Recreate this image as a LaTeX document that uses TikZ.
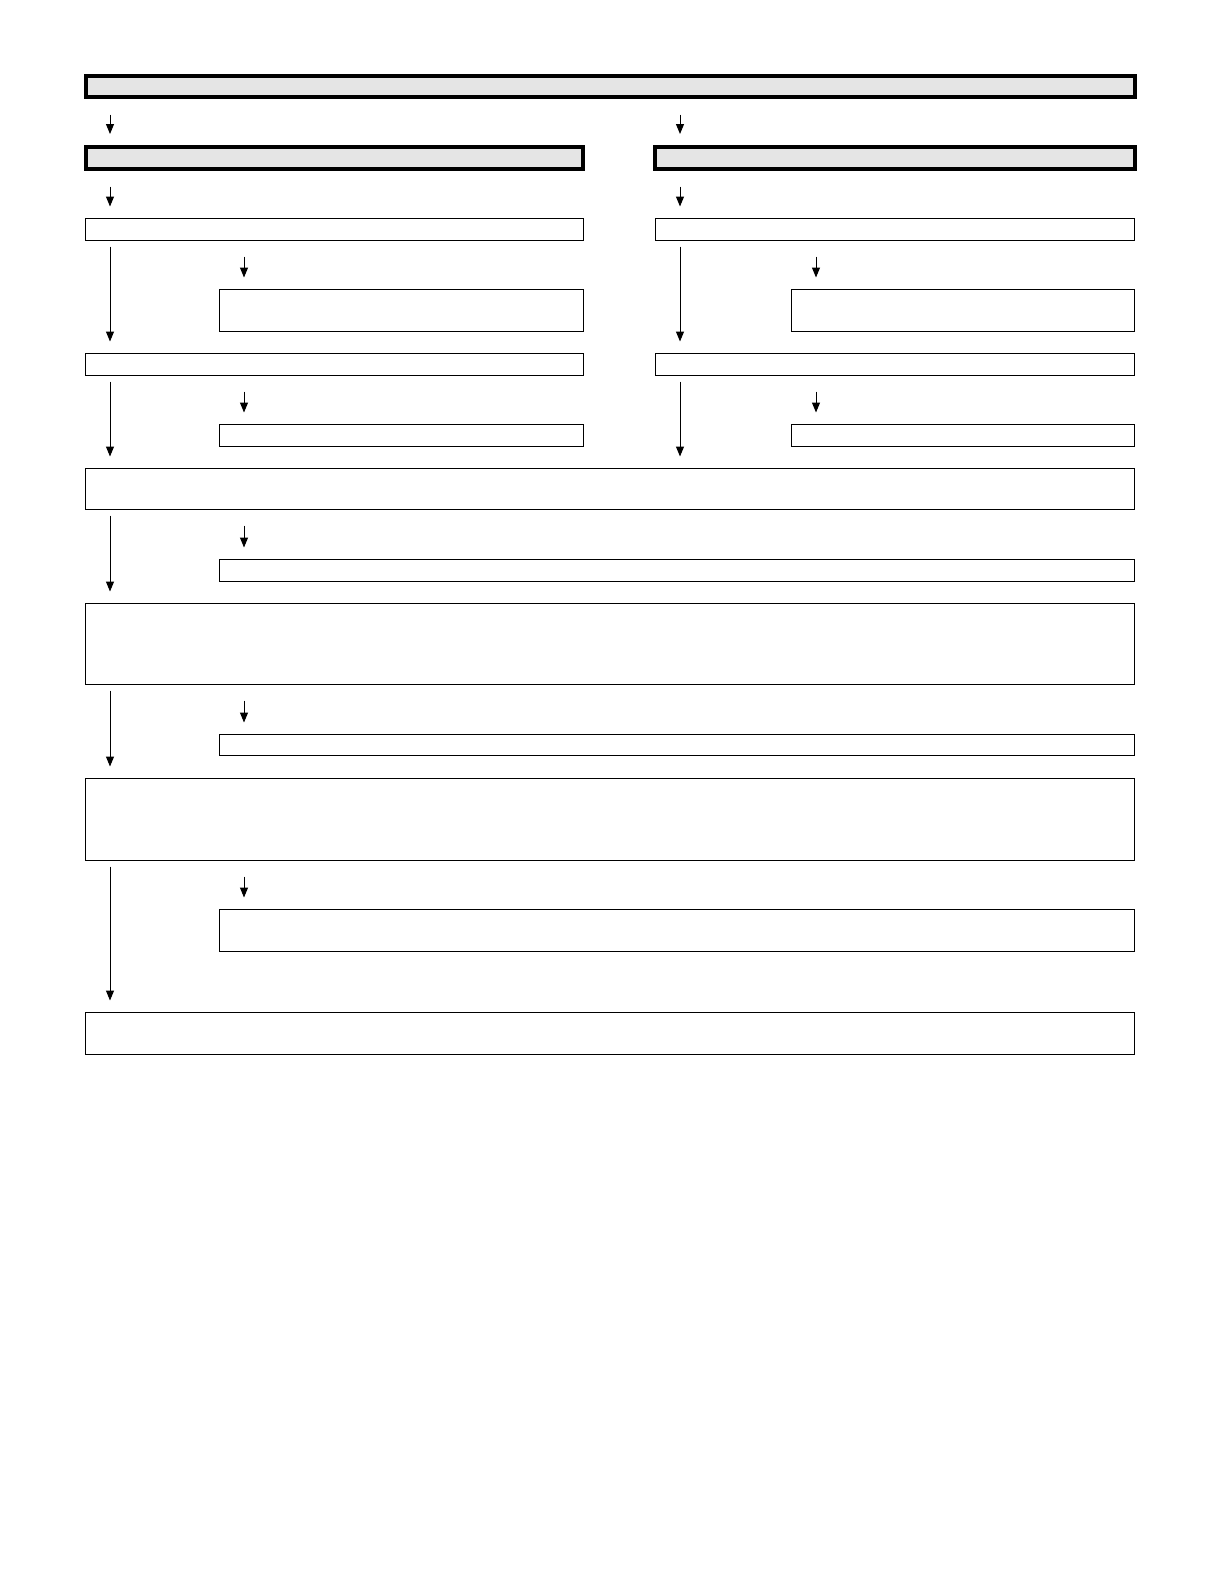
\documentclass[tikz,border=0pt]{standalone}
\usetikzlibrary{arrows.meta}
\begin{document}
\begin{tikzpicture}[x=1pt,y=-1pt,
		head/.style={draw, line width=3.5pt, fill=black!10, anchor=north west, inner sep=0pt},
		box/.style={draw, line width=1pt, anchor=north west, inner sep=0pt},
		arr/.style={-{Triangle[length=10pt,width=8pt]}, line width=1pt, shorten <=6pt, shorten >=11pt},
		tick/.style={arr, shorten <=16pt}]
			\useasboundingbox (0,0) rectangle (1220,1588);
			
			\node[head, minimum width=1049pt, minimum height=21pt] (top) at (84,74) {};
			\node[head, minimum width=497pt, minimum height=22pt] (headLeft) at (84,145) {};
			\node[head, minimum width=480pt, minimum height=22pt] (headRight) at (653,145) {};
			
			\node[box, minimum width=498pt, minimum height=22pt] (oneLeft) at (84.5,217.5) {};
			\node[box, minimum width=364pt, minimum height=42pt] (twoLeft) at (218.5,288.5) {};
			\node[box, minimum width=498pt, minimum height=22pt] (threeLeft) at (84.5,352.5) {};
			\node[box, minimum width=364pt, minimum height=22pt] (fourLeft) at (218.5,423.5) {};
			
			\node[box, minimum width=479pt, minimum height=22pt] (oneRight) at (654.5,217.5) {};
			\node[box, minimum width=343pt, minimum height=42pt] (twoRight) at (790.5,288.5) {};
			\node[box, minimum width=479pt, minimum height=22pt] (threeRight) at (654.5,352.5) {};
			\node[box, minimum width=343pt, minimum height=22pt] (fourRight) at (790.5,423.5) {};
			
			\node[box, minimum width=1049pt, minimum height=41pt] (wideA) at (84.5,467.5) {};
			\node[box, minimum width=915pt, minimum height=22pt] (sideA) at (218.5,558.5) {};
			\node[box, minimum width=1049pt, minimum height=81pt] (wideB) at (84.5,602.5) {};
			\node[box, minimum width=915pt, minimum height=21pt] (sideB) at (218.5,733.5) {};
			\node[box, minimum width=1049pt, minimum height=82pt] (wideC) at (84.5,777.5) {};
			\node[box, minimum width=915pt, minimum height=42pt] (sideC) at (218.5,908.5) {};
			\node[box, minimum width=1049pt, minimum height=42pt] (wideD) at (84.5,1011.5) {};
			
			% columns of the arrows
			\coordinate (colLeft) at (110,0);
			\coordinate (colRight) at (680,0);
			\coordinate (subLeft) at (244,0);
			\coordinate (subRight) at (816,0);
			
			\draw[tick] (top.south -| colLeft) -- (headLeft.north -| colLeft);
			\draw[tick] (top.south -| colRight) -- (headRight.north -| colRight);
			\draw[tick] (headLeft.south -| colLeft) -- (oneLeft.north -| colLeft);
			\draw[tick] (headRight.south -| colRight) -- (oneRight.north -| colRight);
			
			\draw[arr] (oneLeft.south -| colLeft) -- (threeLeft.north -| colLeft);
			\draw[tick] (oneLeft.south -| subLeft) -- (twoLeft.north -| subLeft);
			\draw[arr] (threeLeft.south -| colLeft) -- (wideA.north -| colLeft);
			\draw[tick] (threeLeft.south -| subLeft) -- (fourLeft.north -| subLeft);
			
			\draw[arr] (oneRight.south -| colRight) -- (threeRight.north -| colRight);
			\draw[tick] (oneRight.south -| subRight) -- (twoRight.north -| subRight);
			\draw[arr] (threeRight.south -| colRight) -- (wideA.north -| colRight);
			\draw[tick] (threeRight.south -| subRight) -- (fourRight.north -| subRight);
			
			\draw[arr] (wideA.south -| colLeft) -- (wideB.north -| colLeft);
			\draw[tick] (wideA.south -| subLeft) -- (sideA.north -| subLeft);
			\draw[arr] (wideB.south -| colLeft) -- (wideC.north -| colLeft);
			\draw[tick] (wideB.south -| subLeft) -- (sideB.north -| subLeft);
			\draw[arr] (wideC.south -| colLeft) -- (wideD.north -| colLeft);
			\draw[tick] (wideC.south -| subLeft) -- (sideC.north -| subLeft);
		\end{tikzpicture}
\end{document}
